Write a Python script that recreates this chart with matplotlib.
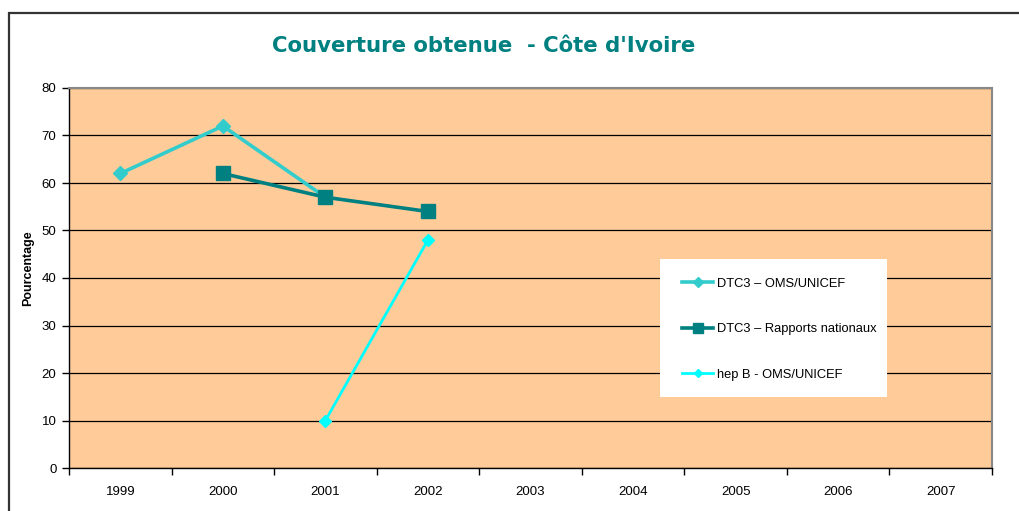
import matplotlib
matplotlib.use("Agg")
import matplotlib.pyplot as plt
from matplotlib.patches import Rectangle
import numpy as np

years = ["1999", "2000", "2001", "2002", "2003", "2004", "2005", "2006", "2007"]
dtc3_oms_years = ["1999", "2000", "2001"]
dtc3_oms = [62, 72, 57]
dtc3_nat_years = ["2000", "2001", "2002"]
dtc3_nat = [62, 57, 54]
hepb_years = ["2001", "2002"]
hepb = [10, 48]

title = "Couverture obtenue  - Côte d'Ivoire"
ylabel = "Pourcentage"
labels = ["DTC3 – OMS/UNICEF", "DTC3 – Rapports nationaux", "hep B - OMS/UNICEF"]

plt.rcParams['font.family'] = ['Liberation Sans', 'DejaVu Sans']

fig = plt.figure(figsize=(10.2, 5.11), dpi=100)
W, H = 1020, 511
ax = fig.add_axes([69 / W, (511 - 468) / H, (992 - 69) / W, (468 - 88) / H])

# outer frame
fig.patches.append(Rectangle((9 / W, -0.1), 1.2, (511 - 13) / H + 0.1, transform=fig.transFigure,
                             fill=False, edgecolor='#333333', linewidth=1.6))

pos = {y: i for i, y in enumerate(years)}
ax.set_facecolor('#FFCC99')

ax.plot([pos[y] for y in dtc3_oms_years], dtc3_oms, color='#33CCCC', lw=2.6,
        marker='D', markersize=7, label=labels[0], zorder=3)
ax.plot([pos[y] for y in dtc3_nat_years], dtc3_nat, color='#008080', lw=2.6,
        marker='s', markersize=10, label=labels[1], zorder=4)
ax.plot([pos[y] for y in hepb_years], hepb, color='#00FFFF', lw=2.0,
        marker='D', markersize=6, label=labels[2], zorder=3)

ax.set_xlim(-0.5, len(years) - 0.5)
ax.set_ylim(0, 80)
ax.set_yticks(np.arange(0, 81, 10))
ax.yaxis.grid(True, color='black', lw=0.9)
ax.set_axisbelow(True)

ax.set_xticks(np.arange(-0.5, len(years), 1.0))
ax.set_xticklabels([])
ax.set_xticks(np.arange(len(years)), minor=True)
ax.set_xticklabels(years, minor=True)
ax.tick_params(axis='x', which='major', direction='out', length=5, width=1)
ax.tick_params(axis='x', which='minor', length=0, pad=13, labelsize=9.5)
ax.tick_params(axis='y', direction='out', length=5, width=1, labelsize=9.5, pad=4)

for s in ['left', 'bottom']:
    ax.spines[s].set_color('black')
    ax.spines[s].set_linewidth(1)
for s in ['top', 'right']:
    ax.spines[s].set_color('#888888')
    ax.spines[s].set_linewidth(1.5)

fig.text(28 / W, (511 - 268) / H, ylabel, rotation=90, ha='center', va='center',
         fontsize=9, fontweight='bold')

fig.text(484 / W, (511 - 46) / H, title, ha='center', va='center', fontsize=15.3,
         fontweight='bold', color='#008080', family='DejaVu Sans')

# legend box
ax.add_patch(Rectangle(((660 - 69) / 923, (468 - 397) / 380), (887 - 660) / 923, (397 - 259) / 380,
                       transform=ax.transAxes, facecolor='white', edgecolor='none', zorder=5))
leg = ax.legend(loc='upper left', bbox_to_anchor=((676 - 69) / 923, (468 - 271) / 380),
                fontsize=9.3, labelspacing=2.6, handlelength=2.4, handletextpad=0.3,
                frameon=False, borderpad=0.5, borderaxespad=0, markerscale=0.75)
leg.set_zorder(6)

fig.savefig('out.png', dpi=100)
